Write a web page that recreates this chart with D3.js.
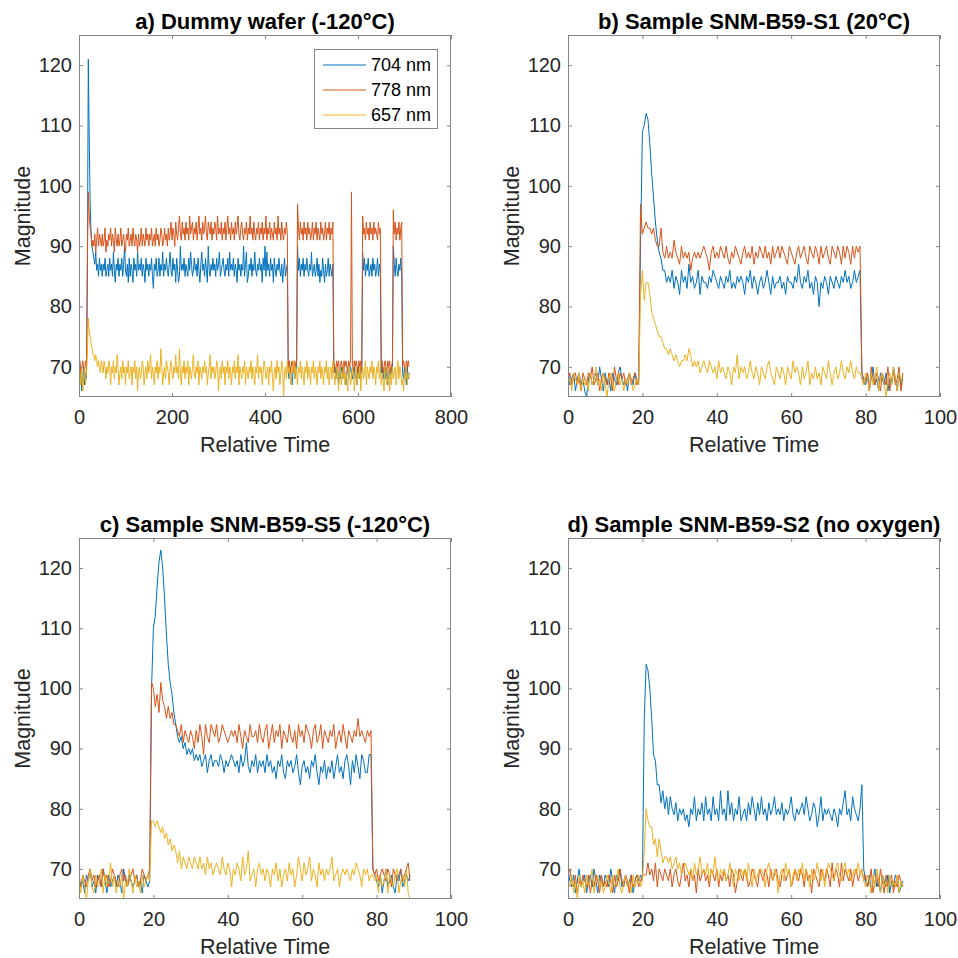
<!DOCTYPE html>
<html>
<head>
<meta charset="utf-8">
<script src="https://cdn.jsdelivr.net/npm/d3@7"></script>
<style>
  body { margin: 0; background: #fff; }
  svg { display: block; }
</style>
</head>
<body>
<svg id="fig" width="958" height="958"></svg>
<script>
// ---------------------------------------------------------------------------
// Labels and ticks
// ---------------------------------------------------------------------------
const seriesNames = ["704 nm", "778 nm", "657 nm"];
const panelTitles = [
  "a) Dummy wafer (-120°C)",
  "b) Sample SNM-B59-S1 (20°C)",
  "c) Sample SNM-B59-S5 (-120°C)",
  "d) Sample SNM-B59-S2 (no oxygen)"
];
const xTicksWafer = [0, 200, 400, 600, 800];
const xTicksSample = [0, 20, 40, 60, 80, 100];
const yTicks = [70, 80, 90, 100, 110, 120];
const xLabel = "Relative Time";
const yLabel = "Magnitude";

// sampling interval of each recording (relative time units per sample)
const waferStep = 2;
const sampleStep = 0.5;

// ---------------------------------------------------------------------------
// a) Dummy wafer (-120°C)
// ---------------------------------------------------------------------------
const wafer704 = [
68,67,69,66,68,70,67,69,68,
85,121,108,97,92,90,
89,88,87,89,86,87,85,88,86,87,
85,87,86,88,85,86,87,85,88,86,
87,85,89,86,84,87,86,88,85,87,
86,88,85,87,90,86,85,87,84,88,
85,87,86,84,88,86,87,85,89,86,
87,86,88,85,87,86,84,88,86,87,
85,87,86,88,85,83,87,86,88,85,
86,88,85,87,86,89,85,87,86,88,
86,85,87,89,86,85,88,86,87,84,
88,86,84,85,90,86,87,86,88,85,
87,86,85,88,86,89,87,85,86,88,
86,87,85,88,86,84,87,89,86,87,
85,88,86,84,90,86,85,87,86,88,
86,87,85,88,86,87,89,85,86,87,
88,86,85,87,86,88,85,89,86,87,
86,88,85,87,86,84,88,86,87,85,
87,86,90,85,87,89,84,85,87,86,
88,85,87,86,89,86,85,87,86,88,
86,87,84,88,86,90,85,89,86,87,
85,88,86,87,84,88,86,85,87,86,
88,86,85,87,84,86,88,85,86,87,
69,68,70,69,67,69,70,68,69,70,
90,86,88,85,87,86,88,85,87,86,
88,86,85,87,86,89,85,86,87,85,
86,88,85,87,84,86,85,88,86,84,
87,85,86,88,85,87,86,85,87,
69,70,68,69,70,67,69,68,70,69,68,70,69,67,69,70,68,69,70,69,68,69,70,68,69,67,70,69,68,70,69,
89,86,88,85,87,86,88,85,86,87,85,88,86,87,85,86,88,85,87,86,
69,70,68,69,70,68,69,67,70,69,68,70,69,
90,
87,85,88,86,85,87,86,88,85,
69,68,70,69,67,70,68,69
];
const wafer778 = [
70,71,69,70,71,70,69,71,70,
88,99,95,93,92,90,
91,90,92,89,91,93,90,92,91,90,
92,90,91,93,89,91,90,92,91,93,
90,92,91,89,93,91,90,92,90,91,
93,90,91,92,90,89,92,91,93,90,
91,92,90,93,91,90,92,91,89,92,
90,91,93,90,92,91,90,93,91,92,
90,92,91,93,90,91,92,90,93,91,
92,90,91,93,92,90,91,93,91,92,
90,93,91,92,94,91,93,92,90,94,
92,91,93,95,92,91,94,92,93,91,
94,92,93,91,95,92,93,94,91,93,
92,94,91,93,95,92,93,91,94,92,
93,95,92,91,94,93,92,94,91,93,
92,94,93,91,95,92,93,92,94,91,
93,92,94,91,93,95,92,93,91,94,
92,93,91,94,92,93,95,92,91,93,
94,92,91,93,92,94,91,93,92,95,
92,93,91,94,92,91,93,92,94,91,
93,92,94,91,93,92,95,91,93,92,
94,91,93,92,91,94,92,93,91,95,
92,93,91,94,92,91,93,92,94,92,
70,71,69,70,71,70,69,71,70,71,
97,93,91,94,92,93,91,94,92,93,
91,94,92,93,91,92,94,91,93,92,
94,91,93,92,91,94,92,93,91,92,
94,91,93,92,94,91,93,92,94,
71,70,69,71,70,71,69,70,71,70,69,71,70,71,70,69,71,70,71,99,70,69,71,70,71,70,69,71,70,71,69,
95,92,93,91,94,92,93,91,94,92,93,91,94,92,93,92,91,94,92,93,
70,71,69,70,71,70,69,71,70,71,69,70,71,
96,
92,94,91,93,92,94,91,93,94,
70,71,70,69,71,70,71,70
];
const wafer657 = [
66,69,67,70,66,68,70,67,69,
72,78,76,75,74,73,
72,72,71,72,71,70,71,70,69,71,
70,69,71,70,68,70,69,71,70,67,
70,69,71,68,70,69,72,70,67,69,
70,68,71,69,70,67,70,69,71,68,
69,70,67,70,69,71,68,70,66,69,
70,68,69,71,70,67,69,70,68,71,
69,70,72,68,70,69,67,70,69,71,
68,70,69,73,70,67,69,70,68,71,
70,69,67,70,71,69,68,70,69,72,
69,70,68,73,69,67,70,69,71,68,
70,69,71,67,70,69,68,70,72,69,
68,70,69,71,67,70,69,68,70,69,
71,69,70,67,69,70,72,68,70,69,
70,68,69,71,70,66,69,70,68,71,
69,70,67,70,69,71,68,70,69,67,
70,69,71,68,70,69,72,67,70,69,
68,70,69,71,67,70,69,68,70,69,
71,68,70,69,67,70,69,72,68,70,
69,70,67,69,71,70,68,69,70,67,
70,69,71,68,66,69,70,68,71,69,
70,67,69,71,70,65,69,70,68,71,
69,70,68,67,70,69,71,68,70,69,
67,70,69,71,68,70,69,67,70,69,
71,68,70,69,67,70,69,71,68,70,
69,67,70,69,71,68,70,69,67,70,
69,71,68,70,67,69,70,68,71,69,
67,69,68,70,66,69,70,67,69,68,
70,67,69,68,66,70,69,67,68,70,
69,66,68,70,67,69,68,70,66,69,
70,68,69,71,67,70,69,68,70,69,
71,68,70,69,67,70,69,71,68,70,
67,69,68,66,70,69,67,68,70,66,
69,67,70,68,69,70,67,69,71,68,
70,69,67,68,66,69,68,70,67,69,
68
];

// ---------------------------------------------------------------------------
// b) Sample SNM-B59-S1 (20°C)
// ---------------------------------------------------------------------------
const s1_704 = [
70,67,68,69,66,68,69,67,68,66,
65,68,69,67,68,69,67,70,68,66,
69,67,68,66,69,68,67,69,70,68,
67,68,66,69,68,67,69,68,
67,90,
109,110,112,111,107,102,98,94,91,89,88,86,86,84,
85,84,86,83,85,84,82,86,84,85,
83,87,84,85,83,84,86,82,85,84,
84,83,85,84,86,85,84,83,85,84,
83,85,84,86,83,84,83,85,84,85,
84,82,85,84,86,83,85,84,82,84,
85,83,84,86,84,82,85,83,84,84,
85,83,84,82,85,84,84,83,85,84,
87,84,83,85,84,86,83,84,82,85,
84,80,84,83,85,84,82,85,84,83,
85,84,83,85,84,86,84,85,83,84,
86,84,85,86,
69,
68,67,69,66,68,70,67,68,66,69,68,67,69,66,68,67,70,68,66,69,67,68
];
const s1_778 = [
68,69,67,68,69,67,68,66,69,68,
67,69,68,70,67,68,69,66,68,69,
68,67,69,68,66,70,68,67,69,68,
69,67,68,69,67,68,69,67,
68,97,
92,93,94,93,93,92,93,91,90,90,93,89,88,90,
88,89,88,91,89,88,87,90,88,89,
88,89,86,88,89,88,89,88,89,90,
89,88,86,89,90,88,89,88,90,89,
88,90,88,87,89,88,90,89,88,87,
89,90,88,89,88,90,87,89,88,90,
89,88,90,88,89,87,90,88,89,90,
88,90,89,88,87,90,89,88,87,89,
90,88,89,90,88,87,90,89,88,90,
89,87,90,88,89,90,88,87,90,89,
88,90,89,87,90,88,90,89,87,90,
88,90,89,90,
69,
67,68,69,66,70,68,67,69,68,66,69,68,67,70,66,68,69,67,68,70,66,69
];
const s1_657 = [
67,68,66,69,68,67,69,66,68,67,
68,66,69,67,68,70,67,68,66,69,
67,65,68,69,67,66,68,69,67,68,
66,68,67,69,68,66,67,68,
67,82,
86,81,84,84,82,79,78,77,76,75,75,74,73,73,
72,73,72,71,72,71,70,71,71,72,
71,73,72,70,71,70,71,69,70,71,
70,69,71,70,69,70,68,71,69,70,
69,68,70,69,67,70,69,72,68,70,
69,70,68,69,71,69,68,70,69,67,
70,69,68,70,71,69,68,67,70,69,
68,70,69,67,70,69,68,71,69,70,
69,67,70,68,69,71,67,69,68,70,
68,69,67,70,69,68,71,69,67,69,
70,68,69,71,69,68,70,69,71,69,
68,70,69,69,
68,
67,69,68,66,69,67,68,70,66,68,69,67,65,68,69,67,70,68,66,69,68,67
];

// ---------------------------------------------------------------------------
// c) Sample SNM-B59-S5 (-120°C)
// ---------------------------------------------------------------------------
const s5_704 = [
69,67,68,66,69,68,70,67,68,66,
69,68,67,70,68,66,69,67,68,69,
67,69,68,66,70,68,67,69,68,67,
68,69,67,68,66,69,68,67,
68,100,
110,112,117,121,123,120,115,109,104,101,99,96,94,92,
91,92,90,91,89,90,89,90,88,89,
88,89,87,88,89,86,88,89,87,88,
88,87,89,88,86,88,87,88,89,88,
87,88,86,89,87,88,91,87,86,88,
87,89,86,88,87,88,86,89,87,88,
86,87,85,88,87,89,86,85,88,87,
88,86,87,89,86,84,87,88,86,87,
85,88,87,89,86,84,87,86,88,85,
87,86,88,85,87,89,86,87,85,88,
89,87,84,88,86,89,87,85,89,88,
86,86,89,89,
70,
69,68,67,69,66,68,70,67,68,69,67,66,69,68,70,67,68,69,68,69
];
const s5_778 = [
68,67,69,68,67,69,70,68,69,67,
68,69,67,70,68,69,67,68,70,69,
68,67,69,70,68,69,67,68,69,70,
68,69,67,68,70,69,68,69,
70,101,
100,97,99,96,101,98,97,95,97,95,96,94,94,93,
92,94,91,93,92,91,93,92,90,93,
91,94,92,89,94,92,91,94,93,92,
94,91,92,94,93,92,91,92,93,92,
93,91,94,92,90,93,92,91,94,92,
92,93,91,94,92,91,93,94,90,92,
94,91,93,92,94,90,93,92,91,94,
92,91,93,90,94,92,93,91,94,93,
92,90,93,94,91,92,94,90,93,92,
91,93,92,94,90,92,93,91,94,92,
90,93,92,91,93,92,95,92,93,92,
91,93,92,93,
70,
69,70,68,69,70,69,68,70,69,67,70,69,68,69,70,68,69,70,71,68
];
const s5_657 = [
68,66,69,67,65,68,70,67,66,69,
67,68,70,66,69,67,68,71,67,69,
66,68,67,69,65,68,67,70,68,66,
69,67,68,66,69,67,68,69,
68,78,
78,77,78,77,76,77,75,76,74,75,73,74,73,71,
73,70,72,71,70,72,71,70,72,71,
70,72,70,71,69,72,70,71,69,70,
71,70,69,72,70,69,71,70,67,70,
69,71,70,68,72,69,70,73,68,69,
70,67,70,71,69,70,68,70,69,67,
70,69,71,68,70,67,69,70,68,71,
69,70,67,69,72,70,68,71,69,70,
72,68,70,69,67,71,69,70,68,70,
69,70,72,68,69,70,67,69,70,69,
70,69,68,70,69,71,70,69,67,70,
69,70,68,69,
69,
68,69,66,69,67,68,70,66,69,68,67,69,70,66,68,69,67,70,66,65
];

// ---------------------------------------------------------------------------
// d) Sample SNM-B59-S2 (no oxygen)
// ---------------------------------------------------------------------------
const s2_704 = [
70,68,67,69,66,68,70,67,68,69,
66,68,69,67,70,68,66,69,68,67,
69,68,67,70,68,66,69,68,70,67,
68,69,67,68,69,66,68,69,
68,69,
68,95,104,103,100,95,89,88,84,84,81,83,80,82,
79,82,80,79,81,78,80,79,80,78,
79,77,80,79,82,78,80,79,81,78,
82,79,80,78,82,79,80,78,83,79,
80,78,83,79,81,78,80,79,82,78,
79,80,78,81,79,82,80,78,81,79,
82,79,80,78,81,79,80,82,79,80,
79,81,78,80,79,80,82,79,78,80,
79,80,81,79,82,80,78,79,81,80,
77,79,82,78,80,79,80,79,78,80,
79,77,80,79,81,83,79,80,78,82,
80,79,78,80,
84,70,
68,67,69,66,68,70,67,68,66,69,68,67,69,66,68,67,69,68,66,67,68
];
const s2_778 = [
69,70,68,67,69,66,68,67,69,68,
67,69,66,68,67,69,68,66,69,67,
68,67,69,68,66,69,67,68,70,68,
67,69,68,66,69,67,68,69,
67,68,
69,69,69,71,69,70,68,71,67,70,69,68,70,69,
68,70,67,69,70,68,67,69,71,68,
69,67,70,68,69,66,70,68,69,70,
68,69,67,70,69,68,70,67,69,68,
70,68,69,67,70,69,66,68,70,69,
68,70,69,67,68,70,69,68,67,70,
69,68,70,69,67,70,68,69,70,68,
67,69,70,68,69,70,67,68,70,69,
68,70,69,67,70,68,69,66,70,69,
68,67,70,69,68,70,69,67,71,68,
70,69,67,71,68,70,69,68,70,67,
69,70,68,69,
70,68,
69,67,68,70,66,68,69,67,70,68,66,69,67,68,69,66,68,67,69,68,67
];
const s2_657 = [
68,67,69,66,68,65,69,67,68,66,
69,67,68,70,66,68,69,67,68,66,
67,69,68,66,69,67,68,70,67,66,
68,69,67,68,66,69,67,68,
69,67,
68,73,80,78,77,77,74,75,72,75,73,71,72,72,
71,72,70,71,72,70,71,69,70,71,
70,69,70,68,71,69,70,72,69,70,
69,71,68,70,69,72,69,68,70,69,
70,68,69,71,69,67,70,69,68,70,
69,70,68,71,69,67,70,68,69,70,
70,69,67,70,71,69,68,70,69,66,
69,70,68,71,69,70,67,69,70,68,
70,69,71,68,70,69,67,70,68,69,
71,69,68,70,67,69,71,70,69,68,
70,71,69,68,70,71,69,70,68,69,
70,69,71,69,
70,68,
67,69,68,66,69,67,70,68,66,69,67,68,66,69,67,68,67,69,66,68,67
];

// ---------------------------------------------------------------------------
// Figure
// ---------------------------------------------------------------------------
const FONT = "'Liberation Sans', Arial, Helvetica, sans-serif";
const lineColors = ["#0072BD", "#D95319", "#EDB120"];
const boxColor = "#858585";
const labelColor = "#262626";
const yDomain = [65, 125];

const cols = [[79, 451], [568, 940]];
const rows = [[35, 397], [538, 899]];

const panels = [
  { title: panelTitles[0], series: [wafer704, wafer778, wafer657], step: waferStep,
    xMax: 800, xTicks: xTicksWafer, col: 0, row: 0, legend: true },
  { title: panelTitles[1], series: [s1_704, s1_778, s1_657], step: sampleStep,
    xMax: 100, xTicks: xTicksSample, col: 1, row: 0 },
  { title: panelTitles[2], series: [s5_704, s5_778, s5_657], step: sampleStep,
    xMax: 100, xTicks: xTicksSample, col: 0, row: 1 },
  { title: panelTitles[3], series: [s2_704, s2_778, s2_657], step: sampleStep,
    xMax: 100, xTicks: xTicksSample, col: 1, row: 1 }
];

const svg = d3.select("#fig");
svg.append("rect").attr("width", 958).attr("height", 958).attr("fill", "#fff");
const defs = svg.append("defs");

function styleAxis(sel, showLabels) {
  sel.attr("font-family", FONT);
  sel.select(".domain").remove();
  sel.selectAll(".tick line").attr("stroke", boxColor).attr("stroke-width", 1);
  if (showLabels) {
    sel.selectAll(".tick text").attr("font-size", 20).attr("fill", labelColor);
  } else {
    sel.selectAll(".tick text").remove();
  }
}

panels.forEach((p, k) => {
  const [L, R] = cols[p.col];
  const [T, B] = rows[p.row];
  const x = d3.scaleLinear().domain([0, p.xMax]).range([L, R]);
  const y = d3.scaleLinear().domain(yDomain).range([B, T]);
  const g = svg.append("g");

  defs.append("clipPath").attr("id", "plotClip" + k)
    .append("rect").attr("x", L).attr("y", T).attr("width", R - L).attr("height", B - T);

  // data traces: 704 nm, then 778 nm, then 657 nm on top
  const line = d3.line()
    .x((v, i) => x(i * p.step))
    .y(v => y(v));
  const plot = g.append("g").attr("clip-path", `url(#plotClip${k})`);
  p.series.forEach((s, j) => {
    plot.append("path")
      .attr("d", line(s))
      .attr("fill", "none")
      .attr("stroke", lineColors[j])
      .attr("stroke-width", 1)
      .attr("stroke-linejoin", "round");
  });

  // axes with inward ticks on all four sides
  g.append("g").attr("transform", `translate(0,${B})`)
    .call(d3.axisBottom(x).tickValues(p.xTicks).tickSizeInner(-4).tickSizeOuter(0).tickPadding(13))
    .call(s => styleAxis(s, true));
  g.append("g").attr("transform", `translate(0,${T})`)
    .call(d3.axisTop(x).tickValues(p.xTicks).tickSizeInner(-4).tickSizeOuter(0))
    .call(s => styleAxis(s, false));
  g.append("g").attr("transform", `translate(${L},0)`)
    .call(d3.axisLeft(y).tickValues(yTicks).tickSizeInner(-4).tickSizeOuter(0).tickPadding(7))
    .call(s => styleAxis(s, true));
  g.append("g").attr("transform", `translate(${R},0)`)
    .call(d3.axisRight(y).tickValues(yTicks).tickSizeInner(-4).tickSizeOuter(0))
    .call(s => styleAxis(s, false));

  g.append("rect")
    .attr("x", L + 0.5).attr("y", T + 0.5)
    .attr("width", R - L - 1).attr("height", B - T - 1)
    .attr("fill", "none").attr("stroke", boxColor).attr("stroke-width", 1);

  // title and axis labels
  g.append("text")
    .attr("x", (L + R) / 2).attr("y", T - 6)
    .attr("text-anchor", "middle")
    .attr("font-family", FONT).attr("font-size", 22).attr("font-weight", "bold")
    .attr("fill", "#000")
    .text(p.title);
  g.append("text")
    .attr("x", (L + R) / 2).attr("y", B + 55)
    .attr("text-anchor", "middle")
    .attr("font-family", FONT).attr("font-size", 21.5)
    .attr("fill", labelColor)
    .text(xLabel);
  g.append("text")
    .attr("transform", `translate(${L - 49},${(T + B) / 2}) rotate(-90)`)
    .attr("text-anchor", "middle")
    .attr("font-family", FONT).attr("font-size", 21.5)
    .attr("fill", labelColor)
    .text(yLabel);

  if (p.legend) {
    const lg = g.append("g").attr("transform", `translate(${R - 137},${T + 14})`);
    lg.append("rect")
      .attr("x", 0.5).attr("y", 0.5).attr("width", 123).attr("height", 79)
      .attr("fill", "#fff").attr("stroke", boxColor).attr("stroke-width", 1);
    seriesNames.forEach((name, j) => {
      const cy = 16 + j * 25;
      lg.append("line")
        .attr("x1", 9).attr("x2", 52).attr("y1", cy).attr("y2", cy)
        .attr("stroke", lineColors[j]).attr("stroke-width", 1);
      lg.append("text")
        .attr("x", 57).attr("y", cy).attr("dy", "0.35em")
        .attr("font-family", FONT).attr("font-size", 18)
        .attr("fill", "#000")
        .text(name);
    });
  }
});
</script>
</body>
</html>
